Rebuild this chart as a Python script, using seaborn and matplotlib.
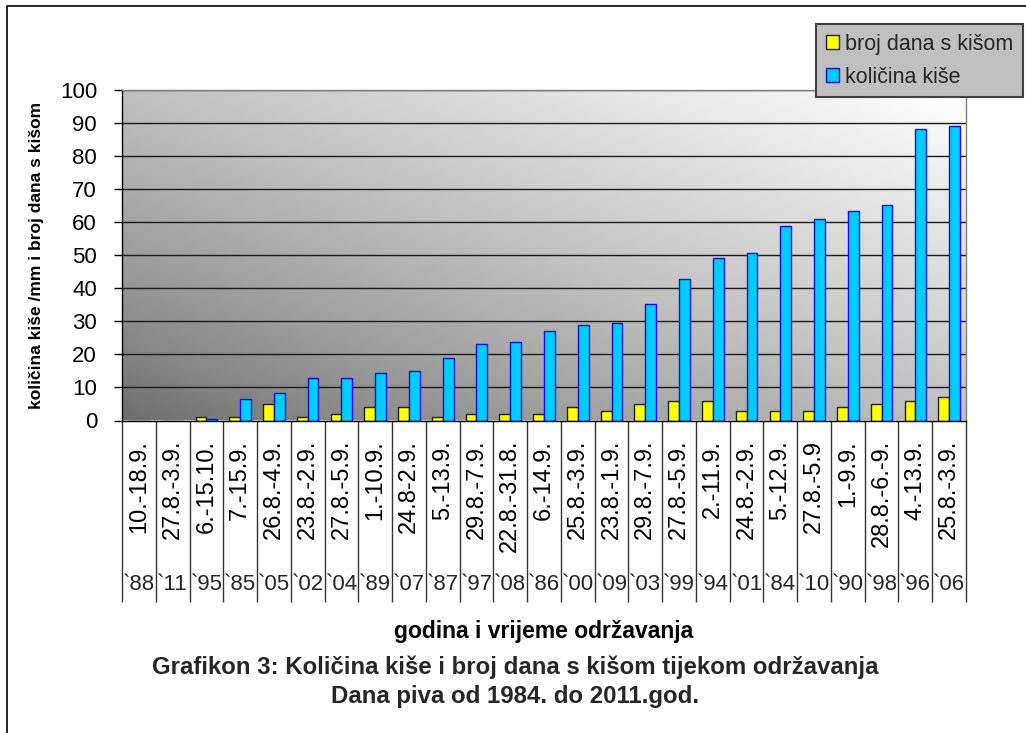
import numpy as np
import pandas as pd
import matplotlib
matplotlib.use("Agg")
import matplotlib.pyplot as plt
import seaborn as sns
from matplotlib.lines import Line2D
from matplotlib.patches import Patch
from matplotlib.transforms import blended_transform_factory

# podaci s grafikona
dates = ["10.-18.9.", "27.8.-3.9.", "6.-15.10.", "7.-15.9.", "26.8.-4.9.",
         "23.8.-2.9.", "27.8.-5.9.", "1.-10.9.", "24.8-2.9.", "5.-13.9.",
         "29.8.-7.9.", "22.8.-31.8.", "6.-14.9.", "25.8.-3.9.", "23.8.-1.9.",
         "29.8.-7.9.", "27.8.-5.9.", "2.-11.9.", "24.8.-2.9.", "5.-12.9.",
         "27.8.-5.9", "1.-9.9.", "28.8.-6.-9.", "4.-13.9.", "25.8.-3.9."]
years = ["`88", "`11", "`95", "`85", "`05", "`02", "`04", "`89", "`07", "`87",
         "`97", "`08", "`86", "`00", "`09", "`03", "`99", "`94", "`01", "`84",
         "`10", "`90", "`98", "`96", "`06"]
rain_days = [0, 0, 1, 1, 5, 1, 2, 4, 4, 1, 2, 2, 2, 4, 3, 5, 6, 6, 3, 3, 3, 4, 5, 6, 7]
rain_mm = [0, 0, 0.4, 6.4, 8.3, 12.8, 12.8, 14.3, 15.1, 18.8, 23.0, 23.9, 27.1,
           29.0, 29.4, 35.3, 42.8, 49.1, 50.6, 58.8, 61.1, 63.4, 65.3, 88.2, 89.1]
series = ["broj dana s kišom", "količina kiše"]

keys = [d + " " + y for d, y in zip(dates, years)]
df = pd.DataFrame({
    "kat": keys * 2,
    "serija": [series[0]] * len(keys) + [series[1]] * len(keys),
    "vrijednost": rain_days + rain_mm,
})

sns.set_theme(style="white")
plt.rcParams["font.family"] = ["Liberation Sans", "DejaVu Sans"]

W, H = 1026, 733
fig = plt.figure(figsize=(W / 100, H / 100), dpi=100)
ax = fig.add_axes([122 / W, 1 - 420.5 / H, 844 / W, 330.5 / H])

fills = ["#ffff00", "#00ccff"]
edges = ["#202020", "#1010e0"]
sns.barplot(data=df, x="kat", y="vrijednost", hue="serija", order=keys,
            hue_order=series, palette=fills, width=0.64, saturation=1,
            linewidth=1, legend=False, ax=ax)
for cont, ec in zip(ax.containers, edges):
    for bar in cont:
        bar.set_edgecolor(ec)
        bar.set_zorder(2)

# gradijentna pozadina
xx, yy = np.meshgrid(np.linspace(0, 1, 300), np.linspace(0, 1, 300))
g = 0.42 + 0.58 * ((xx + yy) / 2) ** 0.8
ax.imshow(g, cmap="gray", vmin=0, vmax=1, origin="lower", extent=[0, 1, 0, 1],
          transform=ax.transAxes, aspect="auto", zorder=0, interpolation="bilinear")

ax.set_xlim(-0.5, len(keys) - 0.5)
ax.set_ylim(0, 100)
ax.set_yticks(range(0, 101, 10))
ax.yaxis.grid(True, color="#1a1a1a", lw=1)
ax.set_axisbelow(True)

for s in ["left", "bottom"]:
    ax.spines[s].set_color("black")
    ax.spines[s].set_linewidth(1)
for s in ["top", "right"]:
    ax.spines[s].set_color("#808080")
    ax.spines[s].set_linewidth(1)

ax.set_xticks(range(len(keys)))
ax.set_xticklabels(dates, rotation=90, fontsize=17)
ax.set_xticks(np.arange(-0.5, len(keys), 1), minor=True)
ax.tick_params(axis="x", which="major", length=0, pad=14, colors="black")
ax.tick_params(axis="x", which="minor", bottom=True, length=130, width=1, color="#333333")
ax.tick_params(axis="y", left=True, length=6, width=1, color="black", pad=12,
               labelsize=16, labelcolor="black")

trans = blended_transform_factory(ax.transData, ax.transAxes)
for i, y in enumerate(years):
    ax.text(i, -0.495, y, ha="center", va="center", fontsize=16, transform=trans)

ax.set_ylabel("količina kiše /mm i broj dana s kišom", fontsize=12.5,
              fontweight="bold", color="black")
ax.yaxis.set_label_coords(-0.092, 0.5)
ax.set_xlabel("godina i vrijeme održavanja", fontsize=16.5, fontweight="bold",
              color="black")
ax.xaxis.set_label_coords(0.5, -0.605)

fig.text(0.502, 1 - 667 / H,
         "Grafikon 3: Količina kiše i broj dana s kišom tijekom održavanja",
         ha="center", va="center", fontsize=17.3, fontweight="bold")
fig.text(0.502, 1 - 696 / H, "Dana piva od 1984. do 2011.god.",
         ha="center", va="center", fontsize=17.3, fontweight="bold")

handles = [Patch(facecolor=f, edgecolor=e) for f, e in zip(fills, edges)]
leg = fig.legend(handles, series, loc="upper left",
                 bbox_to_anchor=(816 / W, 1 - 24 / H), frameon=True,
                 facecolor="#c0c0c0", edgecolor="#404040", fancybox=False,
                 framealpha=1, fontsize=15.5, handlelength=0.6, handleheight=0.6,
                 handletextpad=0.28, borderpad=0.45, labelspacing=0.55,
                 borderaxespad=0)
leg.get_frame().set_linewidth(1.5)

fig.add_artist(Line2D([7 / W, 7 / W, 1], [0, 1 - 6 / H, 1 - 6 / H],
                      transform=fig.transFigure, color="black", lw=1.2))

fig.savefig("out.png", dpi=100)
